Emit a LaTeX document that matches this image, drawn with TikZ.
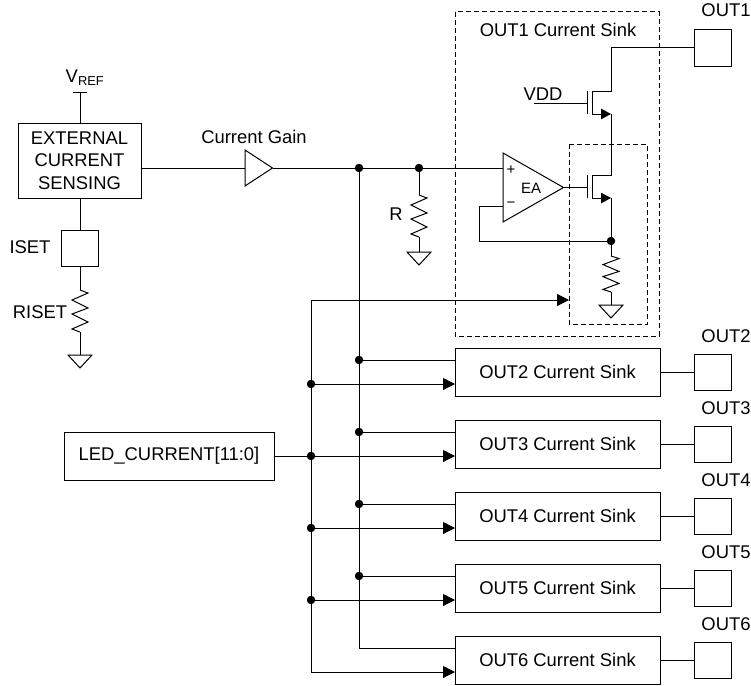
\documentclass[tikz,border=0pt]{standalone}
\usepackage{fontspec}
\setmainfont{Liberation Sans}
\usetikzlibrary{arrows.meta}
\tikzset{
  every node/.style={font=\fontsize{18.4}{22.5}\selectfont,inner sep=0pt,outer sep=0pt},
  wire/.style={line width=1pt},
  block/.style={rectangle,draw,line width=1pt,align=center},
  sink/.style={block,minimum width=205pt,minimum height=48pt},
  pad/.style={block,minimum width=36.5pt,minimum height=36pt},
  dot/.style={circle,fill=black,minimum size=8.5pt},
  amplabel/.style={font=\fontsize{15}{18}\selectfont},
  frame/.style={line width=1pt,dash pattern=on 5pt off 3pt},
  into/.style={-{Triangle[length=12pt,width=12pt]}},
  srctip/.style={-{Triangle[length=10pt,width=10.5pt]}},
  pics/resistor/.style={code={
    \draw[wire] (0,0) -- (8,3) -- (-8,10) -- (8,18) -- (-8,24) -- (8,32) -- (-8,39) -- (0,42);
  }},
  pics/ground/.style={code={
    \draw[wire] (-12,0) -- (12,0) -- (0,13) -- cycle;
  }},
}
\begin{document}
\begin{tikzpicture}[x=1pt,y=-1pt]
\useasboundingbox (0,0) rectangle (751,685);
% left side
\node at (85,78) (vref) {V\textsubscript{REF}};
\coordinate (vtop) at (80,92);
\node at (79.5,160.5) [block,minimum width=123pt,minimum height=75pt] (ext) {EXTERNAL\\CURRENT\\SENSING};
\node at (80,248) [pad] (iset) {};
\node at (30,247) (isetl) {ISET};
\node at (40,312) (risetl) {RISET};
\coordinate (r1a) at (80,290);
\coordinate (r1b) at (80,332);
\coordinate (g1) at (80,355);
\pic at (r1a) {resistor};
\pic at (g1) {ground};
\draw[wire] (73,92) -- (87,92);
\draw[wire] (vtop) -- (vtop |- ext.north);
\draw[wire] (iset.north) -- (iset.north |- ext.south);
\draw[wire] (iset.south) -- (r1a);
\draw[wire] (r1b) -- (g1);
% current gain
\node at (254,137) (gainl) {Current Gain};
\coordinate (gaina) at (245,168);
\coordinate (gainb) at (272.5,168);
\draw[wire] (gaina |- 0,150) -- (gainb) -- (gaina |- 0,186) -- cycle;
\node at (359,168) [dot] (j1) {};
\node at (419,168) [dot] (j2) {};
\coordinate (eap) at (503,168);
\coordinate (ean) at (503,206);
\draw[wire] (ext.east |- gaina) -- (gaina);
\draw[wire] (gainb) -- (j1);
\draw[wire] (j1) -- (j2);
\draw[wire] (j2) -- (eap);
% R
\node at (396,214) (rl) {R};
\coordinate (r2a) at (419,195);
\coordinate (r2b) at (419,237);
\coordinate (g2) at (419,252);
\pic at (r2a) {resistor};
\pic at (g2) {ground};
\draw[wire] (j2) -- (r2a);
\draw[wire] (r2b) -- (g2);
% OUT1 sink
\draw[frame] (455,12) rectangle (659,336);
\draw[frame] (569,144) rectangle (647.5,324);
\node at (558,30) (sinkl) {OUT1 Current Sink};
\node at (713,48) [pad] (out1) {};
\node at (726,10) (out1l) {OUT1};
\coordinate (d1) at (611,91);
\coordinate (s1) at (611,114);
\coordinate (d2) at (611,175);
\coordinate (s2) at (611,198);
\node at (611,241) [dot] (j3) {};
\draw[wire] (out1.west) -- (d1 |- out1.west) -- (d1) -- (592,91) -- (592,114);
\draw[wire,srctip] (592,114) -- (s1);
\draw[wire] (587,91) -- (587,114);
\node at (543,94) (vddl) {VDD};
\draw[wire] (534,103) -- (587,103);
\draw[wire] (s1) -- (d2) -- (592,175) -- (592,198);
\draw[wire,srctip] (592,198) -- (s2);
\draw[wire] (587,175) -- (587,198);
\draw[wire] (503,153) -- (563.5,187.5) -- (503,222) -- cycle;
\draw[wire] (563.5,187.5) -- (587,187.5);
\node at (511,170) [amplabel] (plusl) {+};
\node at (511,205) [amplabel] (minusl) {\textminus};
\node at (531,188) [amplabel] (eal) {EA};
\draw[wire] (s2) -- (j3);
\draw[wire] (j3) -| (479,206) -- (ean);
\coordinate (r3a) at (611,256);
\coordinate (r3b) at (611,292);
\coordinate (g3) at (611,305);
\pic[yscale=.857] at (r3a) {resistor};
\pic at (g3) {ground};
\draw[wire] (j3) -- (r3a);
\draw[wire] (r3b) -- (g3);
% the other sinks
\node at (557.5,372) [sink] (sink2) {OUT2 Current Sink};
\node at (557.5,444) [sink] (sink3) {OUT3 Current Sink};
\node at (557.5,516) [sink] (sink4) {OUT4 Current Sink};
\node at (557.5,588) [sink] (sink5) {OUT5 Current Sink};
\node at (557.5,660) [sink] (sink6) {OUT6 Current Sink};
\node at (713,372) [pad] (out2) {};
\node at (713,444) [pad] (out3) {};
\node at (713,516) [pad] (out4) {};
\node at (713,588) [pad] (out5) {};
\node at (713,660) [pad] (out6) {};
\node at (726,336) (out2l) {OUT2};
\node at (726,408) (out3l) {OUT3};
\node at (726,480) (out4l) {OUT4};
\node at (726,552) (out5l) {OUT5};
\node at (726,624) (out6l) {OUT6};
\draw[wire] (sink2.east) -- (out2.west);
\draw[wire] (sink3.east) -- (out3.west);
\draw[wire] (sink4.east) -- (out4.west);
\draw[wire] (sink5.east) -- (out5.west);
\draw[wire] (sink6.east) -- (out6.west);
% gain bus
\node at (359,360) [dot] (g2j) {};
\node at (359,432) [dot] (g3j) {};
\node at (359,504) [dot] (g4j) {};
\node at (359,576) [dot] (g5j) {};
\coordinate (g6j) at (359,648);
\draw[wire] (j1) -- (g2j);
\draw[wire] (g2j) -- (g3j);
\draw[wire] (g3j) -- (g4j);
\draw[wire] (g4j) -- (g5j);
\draw[wire] (g5j) -- (g6j);
\draw[wire] (g2j) -- (g2j -| sink2.west);
\draw[wire] (g3j) -- (g3j -| sink3.west);
\draw[wire] (g4j) -- (g4j -| sink4.west);
\draw[wire] (g5j) -- (g5j -| sink5.west);
\draw[wire] (g6j) -- (g6j -| sink6.west);
% LED_CURRENT bus
\node at (169,456) [block,minimum width=210pt,minimum height=48pt] (led) {LED\_CURRENT[11:0]};
\coordinate (c1j) at (311,300);
\node at (311,384) [dot] (c2j) {};
\node at (311,456) [dot] (c3j) {};
\node at (311,528) [dot] (c4j) {};
\node at (311,600) [dot] (c5j) {};
\coordinate (c6j) at (311,672);
\draw[wire] (led.east) -- (c3j);
\draw[wire] (c1j) -- (c2j);
\draw[wire] (c2j) -- (c3j);
\draw[wire] (c3j) -- (c4j);
\draw[wire] (c4j) -- (c5j);
\draw[wire] (c5j) -- (c6j);
\draw[wire,into] (c1j) -- (569,300);
\draw[wire,into] (c2j) -- (c2j -| sink2.west);
\draw[wire,into] (c3j) -- (c3j -| sink3.west);
\draw[wire,into] (c4j) -- (c4j -| sink4.west);
\draw[wire,into] (c5j) -- (c5j -| sink5.west);
\draw[wire,into] (c6j) -- (c6j -| sink6.west);
\end{tikzpicture}
\end{document}
